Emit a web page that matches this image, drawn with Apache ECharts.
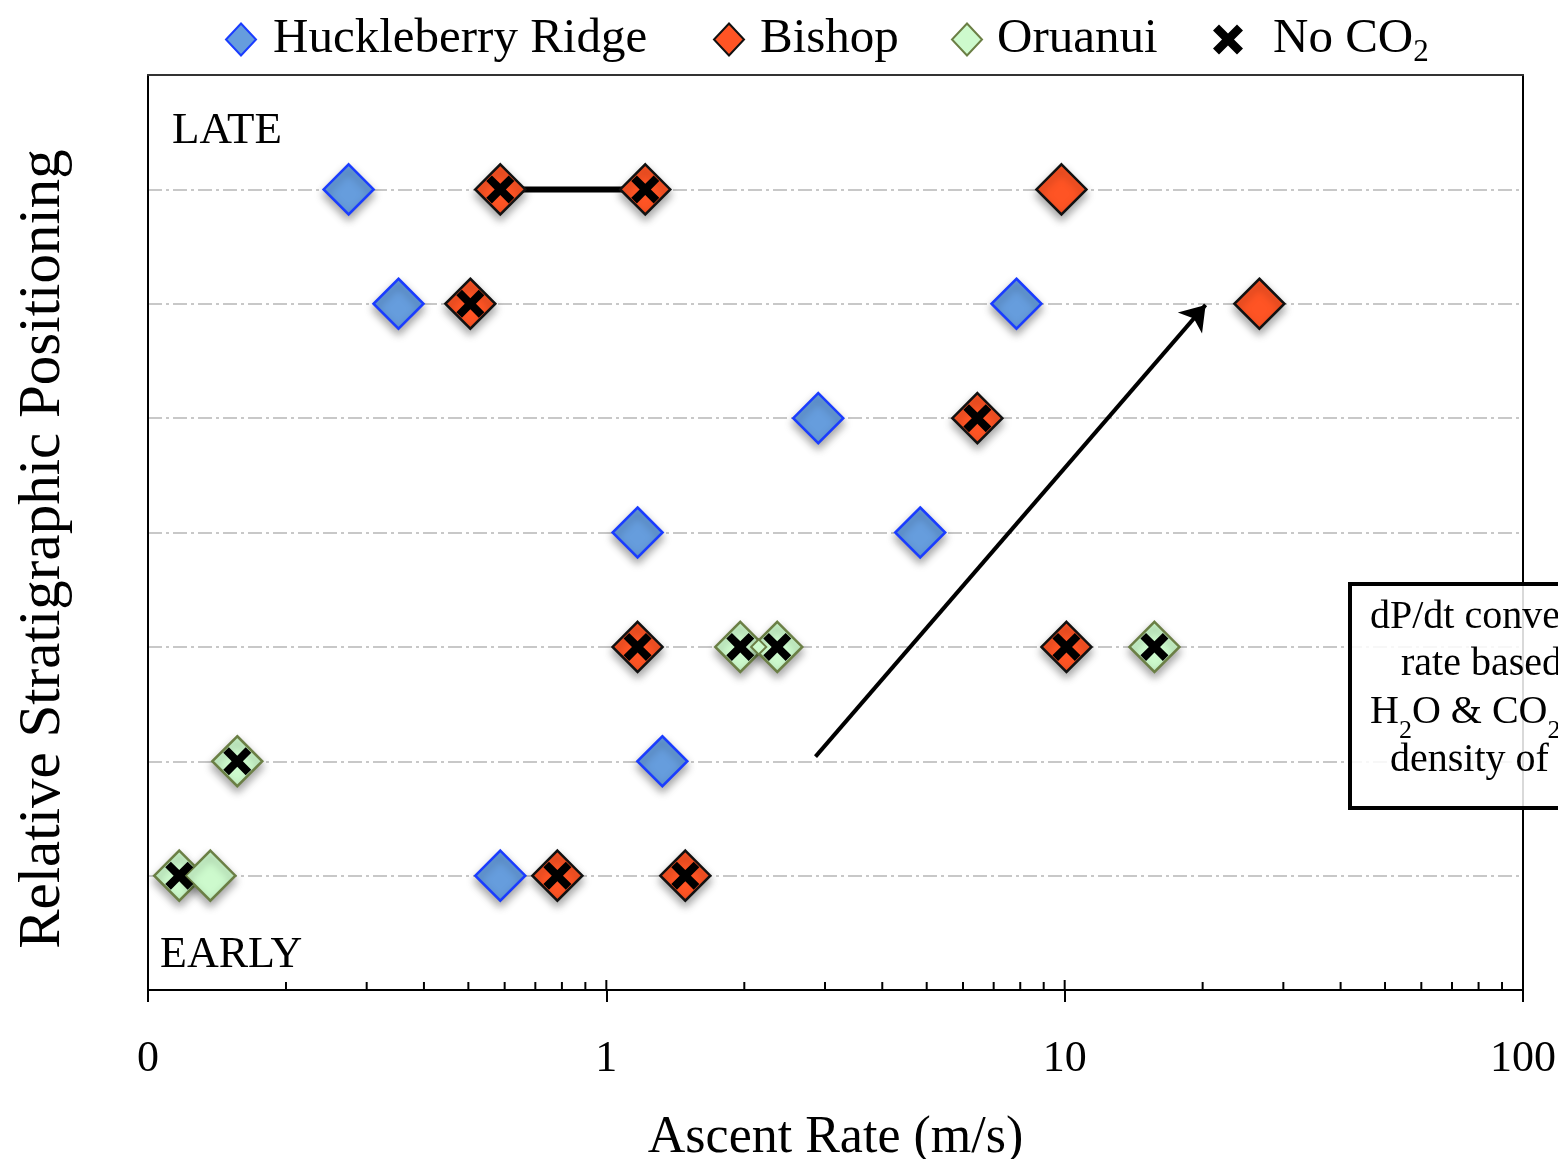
<!DOCTYPE html>
<html>
<head>
<meta charset="utf-8">
<title>Ascent Rate vs Relative Stratigraphic Positioning</title>
<script src="https://cdn.jsdelivr.net/npm/echarts@6/dist/echarts.min.js"></script>
<style>
  html, body { margin: 0; padding: 0; background: #fff; }
  #chart { width: 1558px; height: 1159px; }
</style>
</head>
<body>
<div id="chart"></div>
<script>
// Ascent rate (m/s) against stratigraphic row (1 = early, 7 = late)
const huckleberry = [[0.274, 7], [0.352, 6], [7.85, 6], [2.90, 5], [1.17, 4], [4.84, 4], [1.325, 2], [0.587, 1]];
const bishop = [[0.587, 7], [1.216, 7], [9.84, 7], [0.505, 6], [26.6, 6], [6.45, 5], [1.17, 3], [10.09, 3], [0.782, 1], [1.487, 1]];
const oruanui = [[1.96, 3], [2.36, 3], [15.7, 3], [0.1566, 2], [0.117, 1], [0.1368, 1]];
const oruanuiMinor = [[2.15, 3]];
const noCO2 = [[0.587, 7], [1.216, 7], [0.505, 6], [6.45, 5], [1.17, 3], [1.96, 3], [2.36, 3], [10.09, 3], [15.7, 3], [0.1566, 2], [0.117, 1], [0.782, 1], [1.487, 1]];
const bishopRange = [[0.587, 7], [1.216, 7]];
const trendArrow = [[2.86, 2.04], [20.3, 5.99]];
const minorTicks = [0.2, 0.3, 0.4, 0.5, 0.6, 0.7, 0.8, 0.9, 2, 3, 4, 5, 6, 7, 8, 9, 20, 30, 40, 50, 60, 70, 80, 90];
const majorTicks = [1, 10];

const SERIF = '"Liberation Serif", "Times New Roman", serif';
const X_PATH = 'path://M0,4 L4,0 L10,6 L16,0 L20,4 L14,10 L20,16 L16,20 L10,14 L4,20 L0,16 L6,10 Z';
const shadow = { shadowColor: 'rgba(0,0,0,0.35)', shadowBlur: 8, shadowOffsetY: 5 };

function legendAt(name, left, textShift) {
  return {
    data: [name], top: 10, left: left,
    itemWidth: 30, itemHeight: 32,
    textStyle: {
      fontFamily: SERIF, fontSize: 49, color: '#000',
      padding: [0, 0, 0, textShift],
      rich: {
        sub: { fontFamily: SERIF, fontSize: 31, verticalAlign: 'bottom', lineHeight: 31, padding: [0, 0, -4, 0] }
      }
    },
    formatter: n => n === 'No CO2' ? 'No CO{sub|2}' : n
  };
}

// short inward tick marks on the log axis, placed through the axis scale
function tickSeries(values, len) {
  return {
    type: 'custom', z: 6, silent: true,
    data: values.map(v => [v, 0]),
    renderItem: (params, api) => {
      const p = api.coord([api.value(0), 0]);
      return {
        type: 'line',
        shape: { x1: p[0], y1: p[1], x2: p[0], y2: p[1] - len },
        style: { stroke: '#000', lineWidth: 2 }
      };
    }
  };
}

const chart = echarts.init(document.getElementById('chart'), null, { renderer: 'canvas' });

chart.setOption({
  animation: false,
  backgroundColor: '#fff',
  grid: { left: 148, right: 35, top: 75, bottom: 169, containLabel: false, outerBoundsMode: 'none' },
  legend: [
    legendAt('Huckleberry Ridge', 220, 12),
    legendAt('Bishop', 708, 11),
    legendAt('Oruanui', 946, 10),
    legendAt('No CO2', 1208, 25)
  ],
  xAxis: [
    {
      type: 'log', logBase: 10, min: 0.1, max: 100,
      name: 'Ascent Rate (m/s)', nameLocation: 'middle', nameGap: 122,
      nameTextStyle: { fontFamily: SERIF, fontSize: 52, color: '#000' },
      axisLine: { show: true, onZero: false, lineStyle: { color: '#000', width: 2 } },
      axisTick: { show: true, inside: false, length: 12, lineStyle: { color: '#000', width: 2 } },
      axisLabel: {
        margin: 47, fontFamily: SERIF, fontSize: 44, color: '#000',
        formatter: v => v < 0.5 ? '0' : String(Math.round(v))
      },
      splitLine: { show: false },
      z: 5
    },
    {
      type: 'log', logBase: 10, min: 0.1, max: 100, position: 'top',
      axisLine: { show: true, onZero: false, lineStyle: { color: '#333', width: 2 } },
      axisTick: { show: false }, axisLabel: { show: false }, splitLine: { show: false },
      z: 5
    }
  ],
  yAxis: [
    {
      type: 'value', min: 0, max: 8, interval: 1,
      axisLine: { show: true, onZero: false, lineStyle: { color: '#000', width: 2 } },
      axisTick: { show: false }, axisLabel: { show: false },
      splitLine: {
        show: true, showMinLine: false, showMaxLine: false,
        lineStyle: { color: '#c8c8c8', width: 2, type: [14, 4, 3, 4] }
      },
      z: 0
    },
    {
      type: 'value', min: 0, max: 8, position: 'right',
      axisLine: { show: true, onZero: false, lineStyle: { color: '#000', width: 2 } },
      axisTick: { show: false }, axisLabel: { show: false }, splitLine: { show: false },
      z: 5
    }
  ],
  series: [
    {
      name: 'range', type: 'line', data: bishopRange, symbol: 'none', z: 2,
      lineStyle: { color: '#000', width: 6 },
      markLine: {
        silent: true, animation: false,
        symbol: ['none', 'arrow'], symbolSize: 24,
        label: { show: false },
        lineStyle: { color: '#000', width: 4, type: 'solid' },
        data: [[{ coord: trendArrow[0] }, { coord: trendArrow[1] }]]
      }
    },
    {
      name: 'Huckleberry Ridge', type: 'scatter', data: huckleberry, z: 3,
      symbol: 'diamond', symbolSize: 50,
      itemStyle: Object.assign({ color: '#669ddd', borderColor: '#1a3cff', borderWidth: 2.5, opacity: 1 }, shadow)
    },
    {
      name: 'Bishop', type: 'scatter', data: bishop, z: 3,
      symbol: 'diamond', symbolSize: 50,
      itemStyle: Object.assign({ color: '#ff5424', borderColor: '#111', borderWidth: 2.5, opacity: 1 }, shadow)
    },
    {
      name: 'Oruanui', type: 'scatter', data: oruanui, z: 3,
      symbol: 'diamond', symbolSize: 50,
      itemStyle: Object.assign({ color: '#cdfacd', borderColor: '#6b7f45', borderWidth: 2.5, opacity: 1 }, shadow)
    },
    {
      name: 'Oruanui', type: 'scatter', data: oruanuiMinor, z: 4,
      symbol: 'diamond', symbolSize: 15,
      itemStyle: { color: '#cdfacd', borderColor: '#6b7f45', borderWidth: 2, opacity: 1 }
    },
    {
      name: 'No CO2', type: 'scatter', data: noCO2, z: 6,
      symbol: X_PATH, symbolSize: 28,
      itemStyle: { color: '#000', opacity: 1 }
    },
    tickSeries(minorTicks, 8),
    tickSeries(majorTicks, 10)
  ],
  graphic: [
    {
      type: 'text', x: 172, y: 131,
      style: { text: 'LATE', font: '45px ' + SERIF, fill: '#000', textAlign: 'left', textVerticalAlign: 'middle' }
    },
    {
      type: 'text', x: 160, y: 955,
      style: { text: 'EARLY', font: '44px ' + SERIF, fill: '#000', textAlign: 'left', textVerticalAlign: 'middle' }
    },
    {
      type: 'text', x: 43, y: 549, rotation: Math.PI / 2,
      style: { text: 'Relative Stratigraphic Positioning', font: '59px ' + SERIF, fill: '#000', textAlign: 'center', textVerticalAlign: 'middle' }
    },
    {
      type: 'rect', z: 10,
      shape: { x: 1350, y: 584, width: 260, height: 224 },
      style: { fill: 'rgba(255,255,255,0.85)', stroke: '#000', lineWidth: 4 }
    },
    {
      type: 'text', z: 11, x: 1370, y: 617,
      style: { text: 'dP/dt converted to ascent', font: '40px ' + SERIF, fill: '#000', textAlign: 'left', textVerticalAlign: 'middle' }
    },
    {
      type: 'text', z: 11, x: 1401, y: 664,
      style: { text: 'rate based on', font: '40px ' + SERIF, fill: '#000', textAlign: 'left', textVerticalAlign: 'middle' }
    },
    {
      type: 'text', z: 11, x: 1370, y: 712,
      style: {
        text: 'H{s|2}O & CO{s|2} solubility', font: '40px ' + SERIF, fill: '#000', textAlign: 'left', textVerticalAlign: 'middle',
        rich: { s: { font: '26px ' + SERIF, fill: '#000', verticalAlign: 'bottom', padding: [0, 0, -12, 0] } }
      }
    },
    {
      type: 'text', z: 11, x: 1390, y: 760,
      style: { text: 'density of magma', font: '40px ' + SERIF, fill: '#000', textAlign: 'left', textVerticalAlign: 'middle' }
    }
  ]
});
</script>
</body>
</html>
